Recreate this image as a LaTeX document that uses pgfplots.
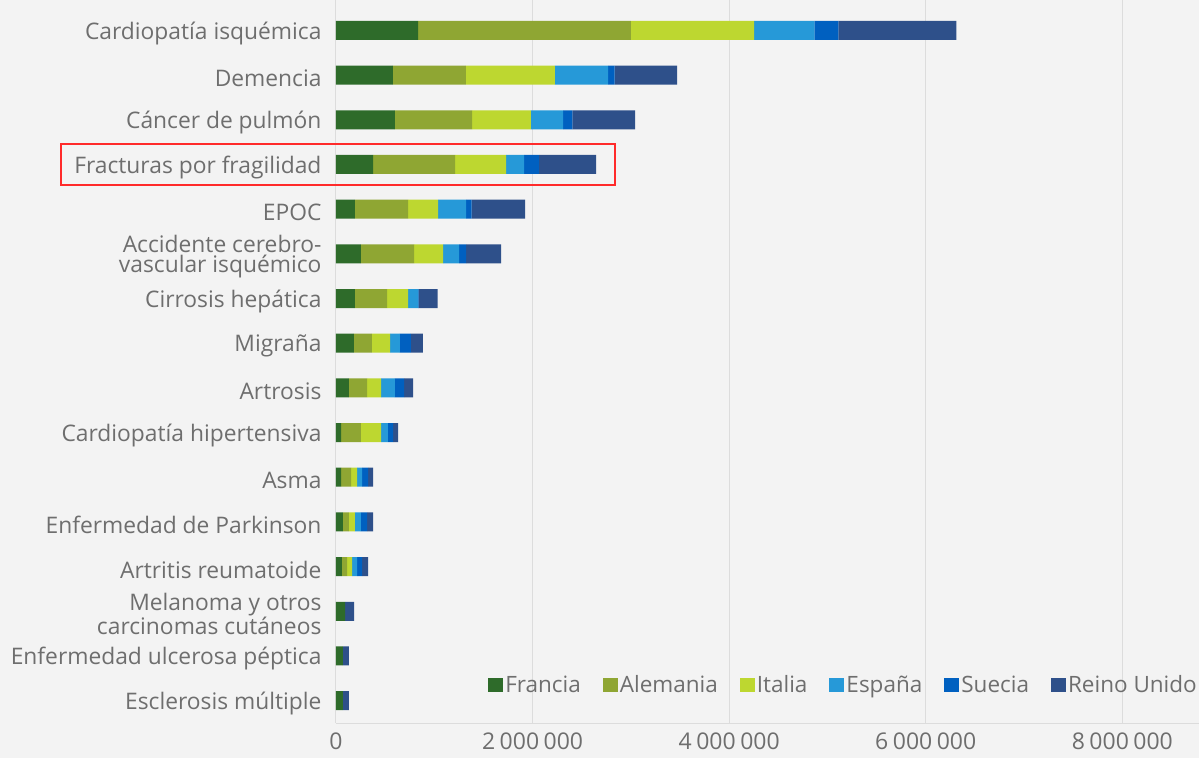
\documentclass[border=0pt]{standalone}
\usepackage{pgfplots}
\pgfplotsset{compat=1.18}
\usepackage{pgfplotstable}
\usepackage{fontspec}
\setmainfont{Open Sans}
\definecolor{cFr}{HTML}{2E6B2A}
\definecolor{cDe}{HTML}{8FA633}
\definecolor{cIt}{HTML}{BDD730}
\definecolor{cEs}{HTML}{2699D8}
\definecolor{cSe}{HTML}{0060C0}
\definecolor{cUK}{HTML}{2E508A}
\definecolor{bg}{HTML}{F3F3F3}
\definecolor{gridc}{HTML}{DCDCDC}
\definecolor{txt}{HTML}{6E6E6E}
\definecolor{boxred}{HTML}{FF2A2A}

\pgfplotstableread{
idx Fr De It Es Se UK
0 836000 2164000 1255000 611000 245000 1200000
1 579000 743000 906000 540000 67000 635000
2 599000 785000 599000 328000 95000 636000
3 377000 834000 519000 183000 153000 580000
4 193000 540000 305000 285000 58000 543000
5 254000 540000 295000 163000 71000 356000
6 193000 326000 214000 102000 5000 193000
7 183000 183000 184000 101000 112000 122000
8 132000 184000 142000 142000 92000 92000
9 51000 203000 204000 71000 51000 51000
10 51000 102000 61000 51000 61000 51000
11 71000 61000 61000 61000 62000 61000
12 61000 51000 51000 51000 51000 61000
13 92000 0 0 0 0 92000
14 71000 0 0 0 0 61000
15 71000 0 0 0 0 61000
}\data

\pgfplotsset{sq/.style={draw=none, legend image code/.code={\fill[##1] (0pt,-7pt) rectangle (15pt,7pt);}}}
\newcommand{\ts}{\hspace{4.5pt}}

\begin{document}
\begin{tikzpicture}
\fill[bg] (-336pt,-35pt) rectangle (863pt,723pt);
\path[use as bounding box] (-336pt,-35pt) rectangle (863pt,723pt);
\begin{axis}[
  at={(0,0)}, anchor=south west,
  scale only axis, width=863pt, height=723pt,
  xbar stacked, bar width=19pt,
  xmin=0, xmax=8.78e6, ymin=-0.68, ymax=15.5, y dir=reverse,
  clip=false, scaled x ticks=false,
  ytick={0,...,15},
  yticklabels={Cardiopatía isquémica, Demencia, Cáncer de pulmón, Fracturas por fragilidad, EPOC, {Accidente cerebro-\\vascular isquémico}, Cirrosis hepática, Migraña, Artrosis, Cardiopatía hipertensiva, Asma, Enfermedad de Parkinson, Artritis reumatoide, {Melanoma y otros\\carcinomas cutáneos}, Enfermedad ulcerosa péptica, Esclerosis múltiple},
  xtick={0,2000000,4000000,6000000,8000000},
  xticklabels={0, 2\ts000\ts000, 4\ts000\ts000, 6\ts000\ts000, 8\ts000\ts000},
  major tick length=0pt,
  xmajorgrids, grid style={draw=gridc, line width=1pt},
  axis lines*=left,
  axis line style={draw=gridc, line width=1pt, -},
  tick label style={text=txt},
  yticklabel style={font=\fontsize{22.8}{20.5}\selectfont, align=right, xshift=-11pt, yshift=-3pt},
  xticklabel style={font=\fontsize{23}{24}\selectfont, yshift=-6pt},
  legend columns=6,
  legend style={at={(1,0.0526)}, anchor=east, draw=none, fill=none,
    font=\fontsize{22.5}{24}\selectfont, text=txt, inner sep=0pt,
    /tikz/every even column/.append style={column sep=20pt}},
  legend cell align=left,
]
\addplot[fill=cFr, sq] table[x=Fr, y=idx]{\data};
\addplot[fill=cDe, sq] table[x=De, y=idx]{\data};
\addplot[fill=cIt, sq] table[x=It, y=idx]{\data};
\addplot[fill=cEs, sq] table[x=Es, y=idx]{\data};
\addplot[fill=cSe, sq] table[x=Se, y=idx]{\data};
\addplot[fill=cUK, sq] table[x=UK, y=idx]{\data};
\legend{Francia, Alemania, Italia, España, Suecia, Reino Unido}
\draw[boxred, line width=2pt] (axis cs:-2800000,2.54) rectangle (axis cs:2840000,3.46);
\end{axis}
\end{tikzpicture}
\end{document}
